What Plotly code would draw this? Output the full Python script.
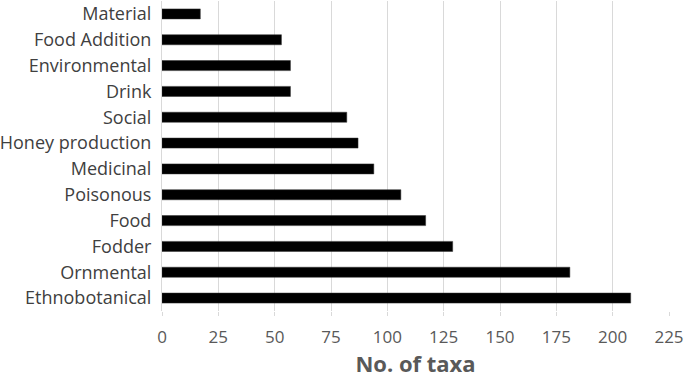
import plotly.graph_objects as go

categories = ["Material", "Food Addition", "Environmental", "Drink", "Social",
              "Honey production", "Medicinal", "Poisonous", "Food", "Fodder",
              "Ornmental", "Ethnobotanical"]
values = [17, 53, 57, 57, 82, 87, 94, 106, 117, 129, 181, 208]
x_ticks = [0, 25, 50, 75, 100, 125, 150, 175, 200, 225]

fig = go.Figure(go.Bar(
    x=values, y=categories, orientation="h",
    marker=dict(color="#000000", line=dict(color="#333333", width=0.5)),
))

fig.update_layout(
    width=685, height=378,
    margin=dict(l=162, r=16, t=1, b=67),
    paper_bgcolor="white", plot_bgcolor="white",
    bargap=0.61,
    showlegend=False,
    font=dict(family="Open Sans", color="#404040"),
)
fig.update_xaxes(
    range=[0, 225], tickvals=x_ticks, showgrid=True, gridcolor="#d9d9d9", gridwidth=1,
    zeroline=False, showline=False, automargin=False, ticklabeloverflow="allow",
    ticks="outside", ticklen=4, tickcolor="#d9d9d9", ticklabelstandoff=7,
    tickfont=dict(size=17, color="#595959"),
    title=dict(text="<b>No. of taxa</b>", font=dict(size=22, color="#595959"), standoff=9),
)
fig.update_yaxes(
    autorange="reversed", showline=True, linecolor="#d9d9d9", linewidth=1,
    automargin=False,
    tickfont=dict(size=18, color="#404040"), ticks="", ticklabelstandoff=6,
)

fig.write_html("out.html", config={"displayModeBar": False},
               post_script="document.body.style.margin='0';")
